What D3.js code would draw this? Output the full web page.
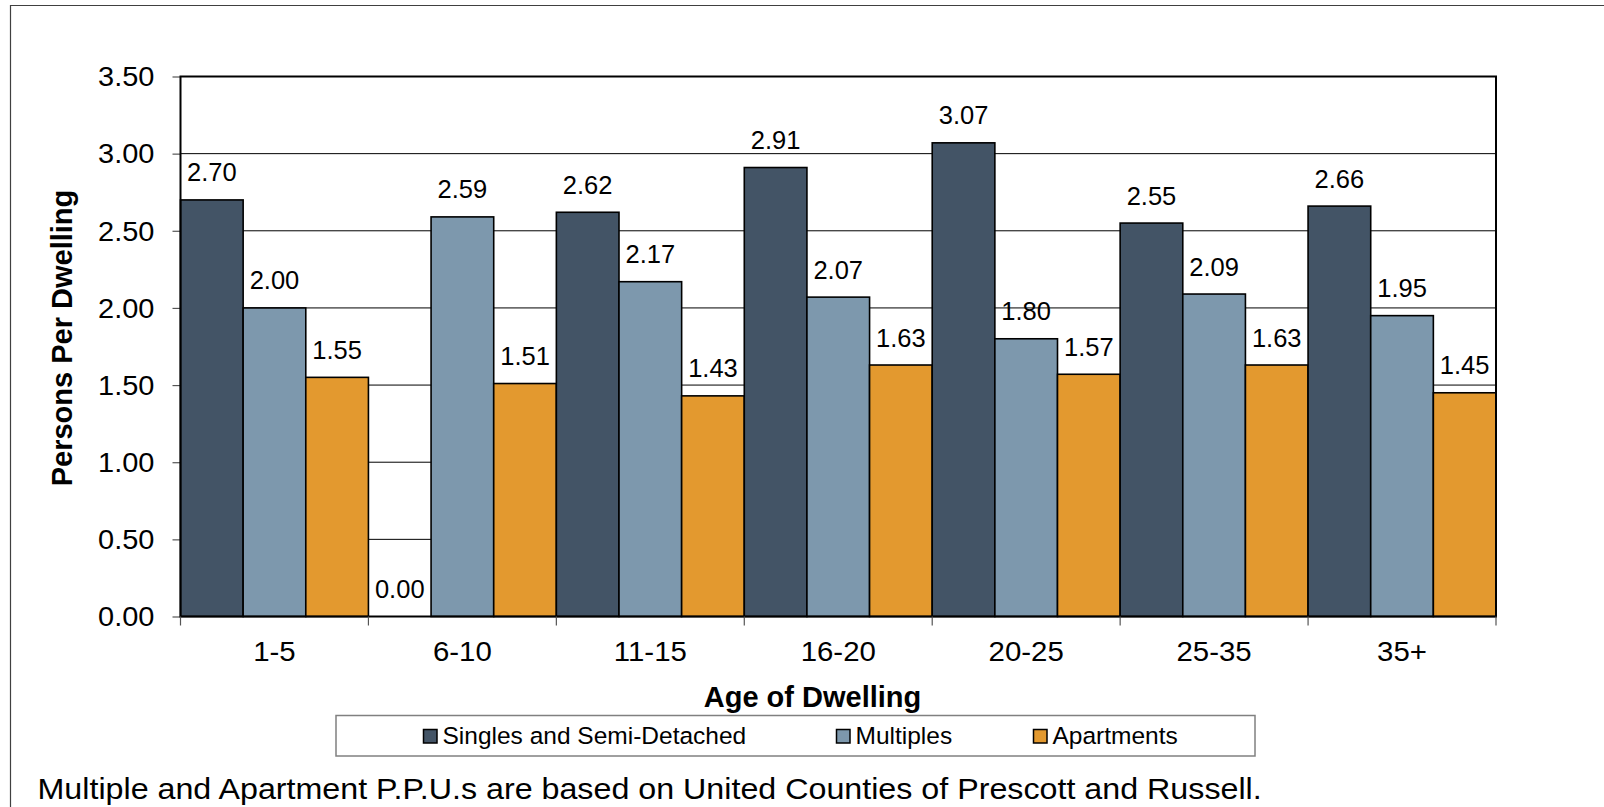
<!DOCTYPE html>
<html>
<head>
<meta charset="utf-8">
<script src="https://cdn.jsdelivr.net/npm/d3@7"></script>
<style>
  html, body { margin: 0; padding: 0; background: #fff; }
  svg { display: block; font-family: "Liberation Sans", Arial, sans-serif; }
</style>
</head>
<body>
<svg id="chart" width="1604" height="807"></svg>
<script>
// ---- data ----
const categories = ["1-5", "6-10", "11-15", "16-20", "20-25", "25-35", "35+"];
const seriesNames = ["Singles and Semi-Detached", "Multiples", "Apartments"];
const singles    = [2.70, 0.00, 2.62, 2.91, 3.07, 2.55, 2.66];
const multiples  = [2.00, 2.59, 2.17, 2.07, 1.80, 2.09, 1.95];
const apartments = [1.55, 1.51, 1.43, 1.63, 1.57, 1.63, 1.45];
const yTicks = [0, 0.5, 1.0, 1.5, 2.0, 2.5, 3.0, 3.5];
const yTitle = "Persons Per Dwelling";
const xTitle = "Age of Dwelling";
const footnote = "Multiple and Apartment P.P.U.s are based on United Counties of Prescott and Russell.";

const colors = ["#435466", "#7D98AD", "#E3992F"];
const seriesValues = [singles, multiples, apartments];

// ---- layout ----
const svg = d3.select("#chart");
const plot = { left: 180.5, right: 1496, top: 76.5, bottom: 616.5 };

// text helper with horizontal stretch
function sText(parent, x, y, sx, txt, size, anchor, weight) {
  const g = parent.append("g").attr("transform", `translate(${x},${y}) scale(${sx},1)`);
  g.append("text").attr("x", 0).attr("y", 0)
    .attr("text-anchor", anchor || "start")
    .attr("font-size", size).attr("font-weight", weight || "normal").attr("fill", "#000")
    .text(txt);
  return g;
}

// outer frame (clipped at right and bottom)
svg.append("path")
  .attr("d", `M10.5,807 L10.5,5.5 L1604,5.5`)
  .attr("fill", "none").attr("stroke", "#404040").attr("stroke-width", 1.2);

const x = d3.scaleBand().domain(categories).range([plot.left, plot.right]).padding(0);
const xs = d3.scaleBand().domain(d3.range(seriesNames.length)).range([0, x.bandwidth()]).padding(0);
const y = d3.scaleLinear().domain([0, 3.5]).range([plot.bottom, plot.top]);

// gridlines
svg.append("g").selectAll("line").data(yTicks.filter(d => d > 0 && d < 3.5)).join("line")
  .attr("x1", plot.left).attr("x2", plot.right)
  .attr("y1", d => y(d)).attr("y2", d => y(d))
  .attr("stroke", "#000").attr("stroke-width", 1);

// y axis ticks (marks via d3 axis, labels stretched)
const yAxis = svg.append("g").attr("transform", `translate(${plot.left},0)`)
  .call(d3.axisLeft(y).tickValues(yTicks).tickFormat("").tickSize(8).tickSizeOuter(0));
yAxis.select(".domain").remove();
yAxis.selectAll(".tick line").attr("stroke", "#555").attr("stroke-width", 1.2);
const yLab = svg.append("g");
yTicks.forEach(t => sText(yLab, 154.5, y(t) + 9.8, 1.035, d3.format(".2f")(t), 28, "end"));

// bars
const groups = svg.append("g").selectAll("g").data(categories).join("g")
  .attr("transform", d => `translate(${x(d)},0)`);
groups.selectAll("rect").data((c, i) => seriesValues.map((s, k) => ({ k, v: s[i] }))).join("rect")
  .attr("x", d => xs(d.k)).attr("width", xs.bandwidth())
  .attr("y", d => y(d.v)).attr("height", d => y(0) - y(d.v))
  .attr("fill", d => colors[d.k])
  .attr("stroke", "#000").attr("stroke-width", 1.6);

// value labels
groups.selectAll("text").data((c, i) => seriesValues.map((s, k) => ({ k, v: s[i] }))).join("text")
  .attr("x", d => xs(d.k) + xs.bandwidth() / 2)
  .attr("y", d => y(d.v) - 18.5)
  .attr("text-anchor", "middle").attr("font-size", 25.5).attr("fill", "#000")
  .text(d => d3.format(".2f")(d.v));

// plot frame
svg.append("rect")
  .attr("x", plot.left).attr("y", plot.top)
  .attr("width", plot.right - plot.left).attr("height", plot.bottom - plot.top)
  .attr("fill", "none").attr("stroke", "#000").attr("stroke-width", 2);

// x axis labels (stretched)
const xLab = svg.append("g");
categories.forEach(c => sText(xLab, x(c) + x.bandwidth() / 2, plot.bottom + 44.2, 1.07, c, 27.5, "middle"));
// boundary ticks
svg.append("g").selectAll("line").data(d3.range(categories.length + 1)).join("line")
  .attr("x1", i => plot.left + i * x.bandwidth()).attr("x2", i => plot.left + i * x.bandwidth())
  .attr("y1", plot.bottom).attr("y2", plot.bottom + 9)
  .attr("stroke", "#555").attr("stroke-width", 1.2);

// axis titles
svg.append("text")
  .attr("transform", `translate(72,338) rotate(-90)`)
  .attr("text-anchor", "middle").attr("font-size", 29).attr("font-weight", "bold").attr("fill", "#000")
  .text(yTitle);
svg.append("text")
  .attr("x", 812.5).attr("y", 706.5)
  .attr("text-anchor", "middle").attr("font-size", 29).attr("font-weight", "bold").attr("fill", "#000")
  .text(xTitle);

// legend
const legend = svg.append("g");
legend.append("rect").attr("x", 336).attr("y", 715.5).attr("width", 919).attr("height", 40.5)
  .attr("fill", "#fff").attr("stroke", "#808080").attr("stroke-width", 1.5);
const legendX = [423, 836, 1033];
const items = legend.selectAll("g.item").data(seriesNames).join("g").attr("class", "item")
  .attr("transform", (d, i) => `translate(${legendX[i]},0)`);
items.append("rect").attr("x", 0.5).attr("y", 729.5).attr("width", 13.5).attr("height", 13.5)
  .attr("fill", (d, i) => colors[i]).attr("stroke", "#000").attr("stroke-width", 1.5);
items.append("text").attr("x", 19.5).attr("y", 744.3).attr("font-size", 24.5).attr("fill", "#000")
  .text(d => d);

// footnote (stretched)
sText(svg, 37.5, 798.5, 1.075, footnote, 30, "start");
</script>
</body>
</html>
